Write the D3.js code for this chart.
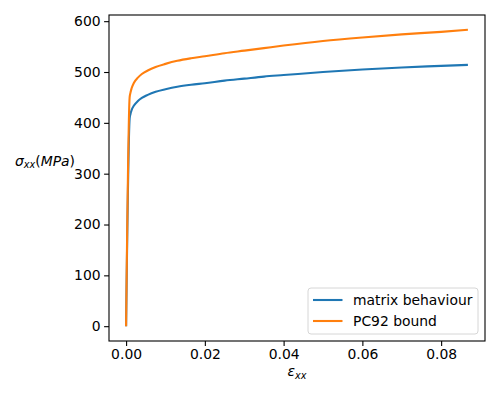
<!DOCTYPE html>
<html>
<head>
<meta charset="utf-8">
<script src="https://cdn.jsdelivr.net/npm/d3@7"></script>
<style>
  body { margin: 0; background: #fff; }
  svg { font-family: "DejaVu Sans", sans-serif; }
</style>
</head>
<body>
<div id="chart"></div>
<script>
// strain values (shared by both curves)
var strain = [0, 0.0009, 0.0011, 0.0014, 0.002, 0.003, 0.004, 0.0055, 0.0075,
              0.01, 0.013, 0.0165, 0.02, 0.025, 0.03, 0.035, 0.04, 0.05,
              0.06, 0.07, 0.08, 0.0868];
// stress, MPa
var matrixStress = [0, 408, 417, 425, 434, 443, 449, 455, 461,
                    466, 471, 475, 478, 483, 487, 491, 494, 500,
                    505, 509, 512, 514];
var boundStress  = [0, 450, 459, 468, 479, 489, 496, 503, 510,
                    516, 522, 527, 531, 537, 542, 547, 552, 561,
                    568, 574, 579, 583];
var seriesNames = ['matrix behaviour', 'PC92 bound'];
var xTicks = [0, 0.02, 0.04, 0.06, 0.08];
var yTicks = [0, 100, 200, 300, 400, 500, 600];

var colors = ['#1f77b4', '#ff7f0e'];
var margin = { top: 15, right: 15, bottom: 59, left: 109 };
var width = 500 - margin.left - margin.right;
var height = 400 - margin.top - margin.bottom;

var svg = d3.select('#chart')
    .append('svg')
    .attr('width', 500)
    .attr('height', 400)
    .append('g')
    .attr('transform', `translate(${margin.left},${margin.top})`);

// matplotlib-style 5% margins
var xMax = d3.max(strain);
var yMax = d3.max(boundStress);
var xScale = d3.scaleLinear()
    .domain([-0.05 * xMax, 1.05 * xMax])
    .range([0, width]);
var yScale = d3.scaleLinear()
    .domain([-0.05 * yMax, 1.05 * yMax])
    .range([height, 0]);

// axes
var xAxis = svg.append('g')
    .attr('transform', `translate(0,${height})`)
    .call(d3.axisBottom(xScale).tickValues(xTicks).tickFormat(d3.format('.2f'))
        .tickSizeOuter(0).tickSize(4.9).tickPadding(3.5));
var yAxis = svg.append('g')
    .call(d3.axisLeft(yScale).tickValues(yTicks).tickFormat(d3.format('d'))
        .tickSizeOuter(0).tickSize(4.9).tickPadding(3.5));

[xAxis, yAxis].forEach(function(a) {
    a.select('.domain').remove();
    a.selectAll('line').attr('stroke', '#000').attr('stroke-width', 1.1);
    a.selectAll('text').attr('fill', '#000')
        .style('font-size', '13.9px')
        .style('font-family', '"DejaVu Sans", sans-serif');
});

// frame
svg.append('rect')
    .attr('x', 0).attr('y', 0)
    .attr('width', width).attr('height', height)
    .attr('fill', 'none')
    .attr('stroke', '#000')
    .attr('stroke-width', 1.1);

// lines
var line = d3.line()
    .x(d => xScale(d[0]))
    .y(d => yScale(d[1]))
    .curve(d3.curveMonotoneX);

[matrixStress, boundStress].forEach(function(s, i) {
    svg.append('path')
        .datum(strain.map((e, j) => [e, s[j]]))
        .attr('fill', 'none')
        .attr('stroke', colors[i])
        .attr('stroke-width', 2.1)
        .attr('stroke-linejoin', 'round')
        .attr('d', line);
});

// x label
var xl = svg.append('text')
    .attr('x', width / 2)
    .attr('y', height + 35)
    .attr('text-anchor', 'middle')
    .style('font-size', '13.9px');
xl.append('tspan').style('font-style', 'italic').text('ε');
xl.append('tspan').style('font-style', 'italic').style('font-size', '9.7px')
    .attr('dy', 2.5).text('xx');

// y label (horizontal)
var yl = svg.append('text')
    .attr('x', -34)
    .attr('y', yScale(300) - 8)
    .attr('text-anchor', 'end')
    .style('font-size', '13.9px');
yl.append('tspan').style('font-style', 'italic').text('σ');
yl.append('tspan').style('font-style', 'italic').style('font-size', '9.7px')
    .attr('dy', 2.5).text('xx');
yl.append('tspan').attr('dy', -2.5).text('(');
yl.append('tspan').style('font-style', 'italic').text('MPa');
yl.append('tspan').text(')');

// legend
var lg = svg.append('g')
    .attr('transform', `translate(${width - 170 - 7},${height - 46 - 7})`);
lg.append('rect')
    .attr('width', 170).attr('height', 46)
    .attr('rx', 3).attr('ry', 3)
    .attr('fill', '#fff').attr('fill-opacity', 0.8)
    .attr('stroke', '#d6d6d6').attr('stroke-width', 1);
seriesNames.forEach(function(name, i) {
    var y = 12 + i * 21;
    lg.append('line')
        .attr('x1', 5).attr('x2', 34.5)
        .attr('y1', y).attr('y2', y)
        .attr('stroke', colors[i])
        .attr('stroke-width', 2.1);
    lg.append('text')
        .attr('x', 45)
        .attr('y', y + 5)
        .style('font-size', '13.9px')
        .text(name);
});
</script>
</body>
</html>
